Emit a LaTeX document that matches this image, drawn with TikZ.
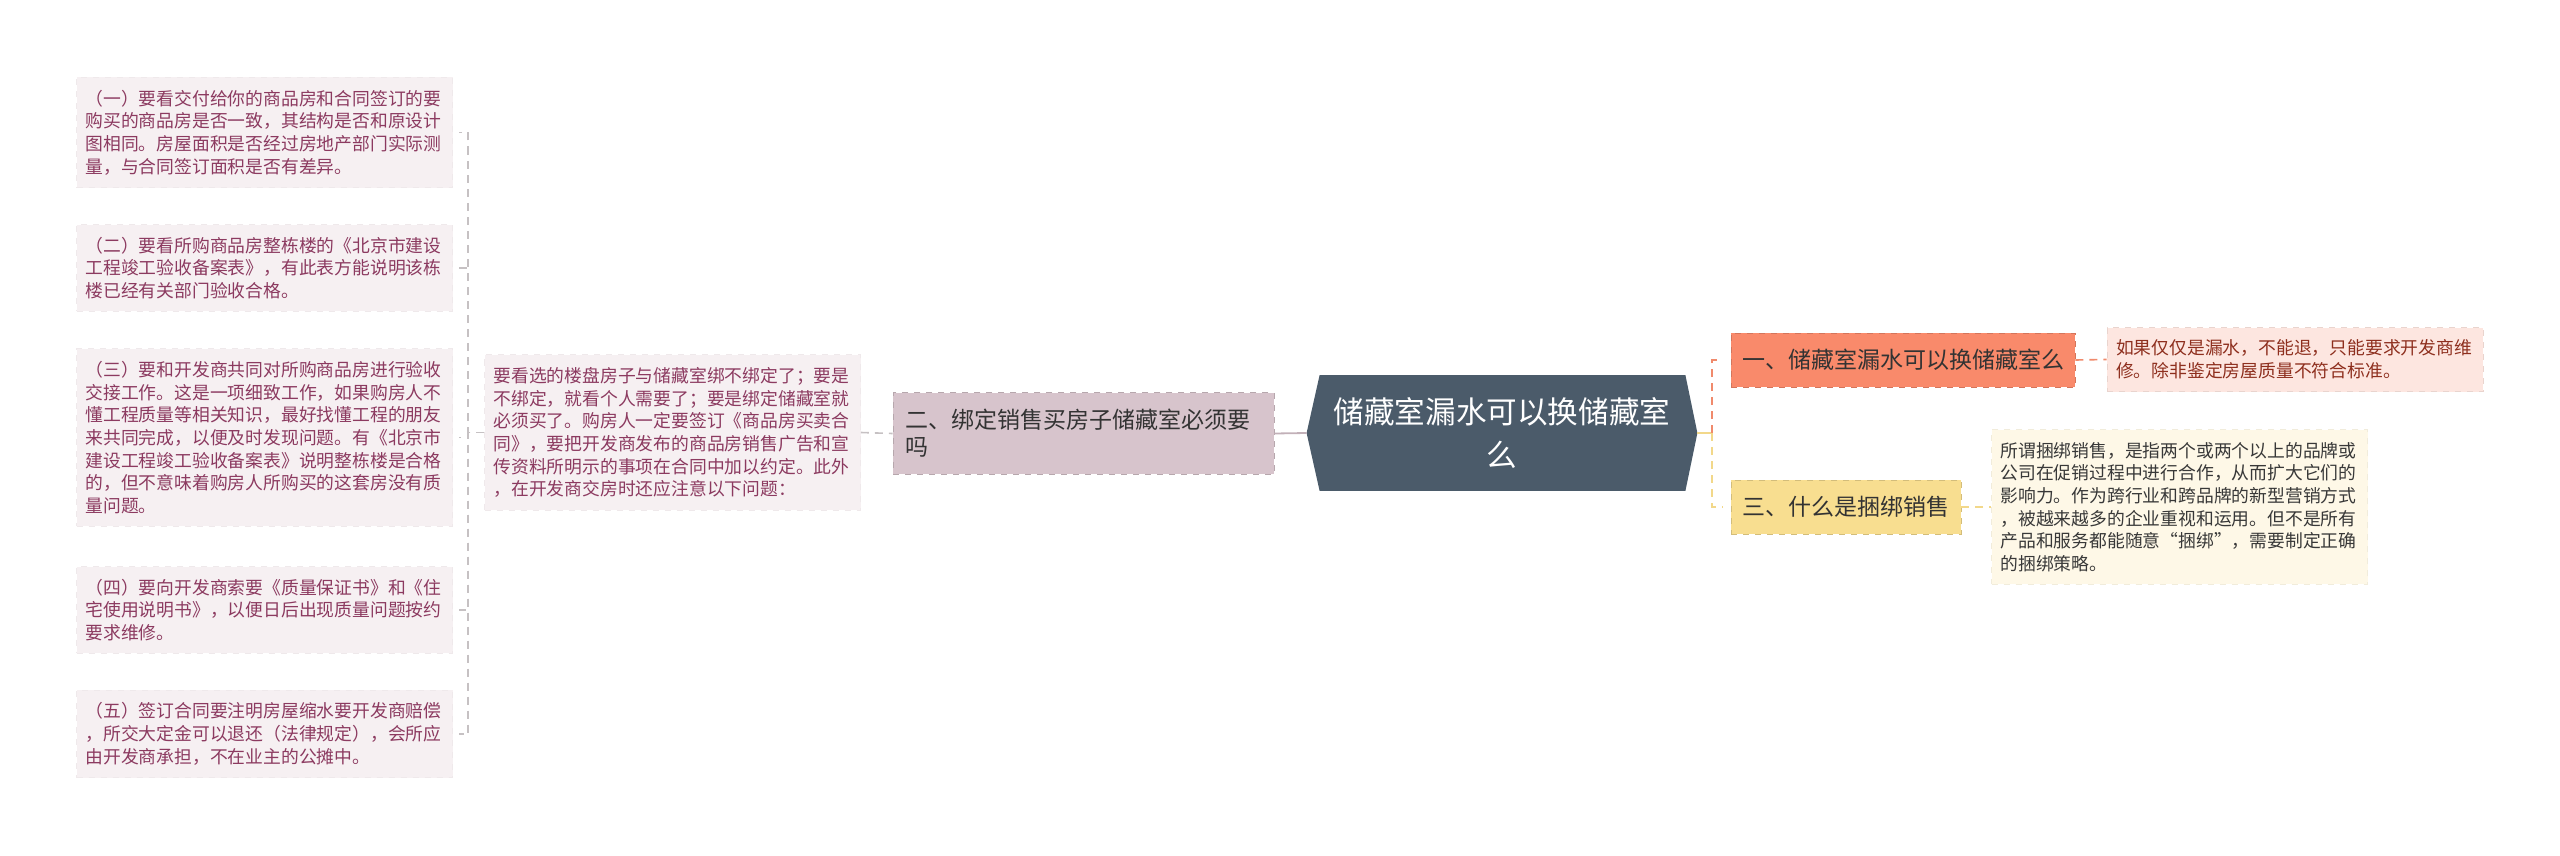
\documentclass[tikz,border=0pt]{standalone}
\usepackage{fontspec}
\setmainfont{Noto Sans CJK SC}
\usetikzlibrary{backgrounds}
\definecolor{leafbg}{HTML}{F6F0F2}
\definecolor{leaftx}{HTML}{8C3A60}
\definecolor{linegray}{HTML}{C6C1C3}
\definecolor{mauve}{HTML}{D7C4CC}
\definecolor{slate}{HTML}{4B5B6A}
\definecolor{coral}{HTML}{F98A6B}
\definecolor{coralln}{HTML}{F08A6C}
\definecolor{coralbg}{HTML}{FDE6E0}
\definecolor{coraltx}{HTML}{8E2F1E}
\definecolor{gold}{HTML}{F8DE90}
\definecolor{goldln}{HTML}{F2D88A}
\definecolor{creambg}{HTML}{FEF8E7}
\begin{document}
\begin{tikzpicture}[x=0.5pt,y=-0.5pt,
	leaf/.style={fill=leafbg,draw=leafbg!97!black,dashed,text=leaftx,text width=179pt,inner xsep=4.5pt,inner ysep=6.2pt,align=left,font=\fontsize{8.9pt}{11.35pt}\selectfont},
	branch/.style={draw,dashed,text=black!80,inner sep=0pt,minimum height=27pt,align=center,font=\fontsize{11.5pt}{13.5pt}\selectfont},
	conn/.style={dashed,dash pattern=on 4pt off 3pt,line width=0.8pt}]
	\useasboundingbox (0,0) rectangle (2560,856);
	\node[leaf] (leaf1) at (264.5,132.5) {（一）要看交付给你的商品房和合同签订的要\\购买的商品房是否一致，其结构是否和原设计\\图相同。房屋面积是否经过房地产部门实际测\\量，与合同签订面积是否有差异。};
	\node[leaf] (leaf2) at (264.5,268) {（二）要看所购商品房整栋楼的《北京市建设\\工程竣工验收备案表》，有此表方能说明该栋\\楼已经有关部门验收合格。};
	\node[leaf] (leaf3) at (264.5,437.5) {（三）要和开发商共同对所购商品房进行验收\\交接工作。这是一项细致工作，如果购房人不\\懂工程质量等相关知识，最好找懂工程的朋友\\来共同完成，以便及时发现问题。有《北京市\\建设工程竣工验收备案表》说明整栋楼是合格\\的，但不意味着购房人所购买的这套房没有质\\量问题。};
	\node[leaf] (leaf4) at (264.5,610) {（四）要向开发商索要《质量保证书》和《住\\宅使用说明书》，以便日后出现质量问题按约\\要求维修。};
	\node[leaf] (leaf5) at (264.5,734) {（五）签订合同要注明房屋缩水要开发商赔偿\\，所交大定金可以退还（法律规定），会所应\\由开发商承担，不在业主的公摊中。};
	\node[leaf] (mid) at (672.5,432.5) {要看选的楼盘房子与储藏室绑不绑定了；要是\\不绑定，就看个人需要了；要是绑定储藏室就\\必须买了。购房人一定要签订《商品房买卖合\\同》，要把开发商发布的商品房销售广告和宣\\传资料所明示的事项在合同中加以约定。此外\\，在开发商交房时还应注意以下问题：};
	\node[branch,fill=mauve,draw=mauve!85!black,text width=178pt,inner xsep=6.25pt,inner ysep=8.25pt,align=left] (br2) at (1083.5,433.5) {二、绑定销售买房子储藏室必须要\\吗};
	\node[text=white,minimum width=195pt,minimum height=57.5pt,align=center,font=\fontsize{15.3pt}{21.5pt}\selectfont] (root) at (1502,433) {储藏室漏水可以换储藏室\\么};
	\begin{scope}[on background layer]
		\fill[slate] (root.west) -- ([xshift=6.5pt]root.north west) -- ([xshift=-6pt]root.north east) -- (root.east) -- ([xshift=-6pt]root.south east) -- ([xshift=6.5pt]root.south west) -- cycle;
	\end{scope}
	\node[branch,fill=coral,draw=coral!85!black,minimum width=172pt] (br1) at (1903,360) {一、储藏室漏水可以换储藏室么};
	\node[leaf,fill=coralbg,draw=coralbg!92!black,text=coraltx] (lf1) at (2295,359.5) {如果仅仅是漏水，不能退，只能要求开发商维\\修。除非鉴定房屋质量不符合标准。};
	\node[branch,fill=gold,draw=gold!85!black,minimum width=115pt] (br3) at (1846,507) {三、什么是捆绑销售};
	\node[leaf,fill=creambg,draw=creambg!95!black,text=black!78] (lf3) at (2179.5,507) {所谓捆绑销售，是指两个或两个以上的品牌或\\公司在促销过程中进行合作，从而扩大它们的\\影响力。作为跨行业和跨品牌的新型营销方式\\，被越来越多的企业重视和运用。但不是所有\\产品和服务都能随意“捆绑”，需要制定正确\\的捆绑策略。};
	\coordinate (rj) at (1712,433);
	\foreach \n in {1,...,5} \draw[conn,linegray,shorten >=3pt] (mid.west) -- ++(-16,0) |- (leaf\n.east);
	\draw[conn,linegray] (mid.east) -- (br2.west);
	\draw[line width=0.9pt,mauve!90!black] (br2.east) -- (root.west);
	\draw[line width=1pt,goldln] (root.east) -- (rj);
	\draw[conn,line width=1pt,coralln,shorten >=4pt] (rj) |- (br1.west);
	\draw[conn,line width=1pt,goldln,shorten >=4pt] (rj) |- (br3.west);
	\draw[conn,coralln] (br1.east) -- (lf1.west);
	\draw[conn,goldln] (br3.east) -- (lf3.west);
\end{tikzpicture}
\end{document}
